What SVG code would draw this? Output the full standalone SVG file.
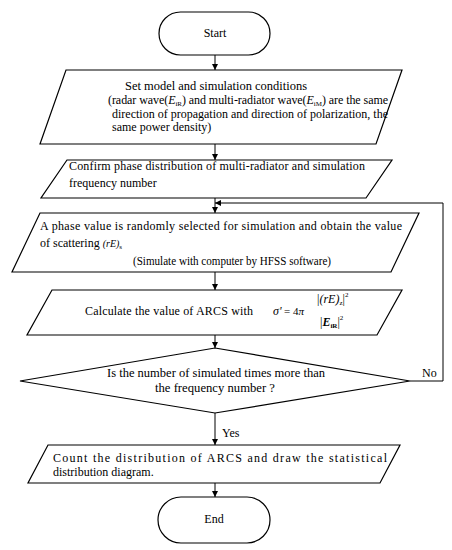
<svg xmlns="http://www.w3.org/2000/svg" width="452" height="550" viewBox="0 0 452 550" font-family="'Liberation Serif', 'Times New Roman', 'DejaVu Serif', serif" font-size="12">
<defs>
<marker id="ah" viewBox="0 0 8 8" refX="8" refY="4" markerWidth="6" markerHeight="6" markerUnits="userSpaceOnUse" orient="auto">
<path d="M0,0 L8,4 L0,8 z" fill="#000"/>
</marker>
<style>
.s{fill:#fff;stroke:#000;stroke-width:1.2}
.c{fill:none;stroke:#000;stroke-width:1;marker-end:url(#ah)}
.m{font-style:italic}
.sub{font-size:7px}
</style>
</defs>
<rect width="452" height="550" fill="#fff"/>
<g id="connectors">
<line class="c" x1="215" y1="55" x2="215" y2="70"/>
<line class="c" x1="215" y1="144" x2="215" y2="160"/>
<line class="c" x1="215" y1="198" x2="215" y2="213"/>
<line class="c" x1="215" y1="272" x2="215" y2="290"/>
<line class="c" x1="215" y1="335" x2="215" y2="348"/>
<line class="c" x1="215" y1="413" x2="215" y2="445"/>
<line class="c" x1="215" y1="483" x2="215" y2="497"/>
<polyline class="c" points="410,381 443,381 443,203 215,203"/>
<text x="222" y="437">Yes</text>
<text x="422" y="377">No</text>
</g>
<g id="start">
<rect class="s" x="159" y="12" width="111" height="43" rx="21.5"/>
<text x="215" y="37" text-anchor="middle">Start</text>
</g>
<g id="setModel">
<polygon class="s" points="66,70 402,70 376,144 40,144"/>
<text x="125" y="90" textLength="182" lengthAdjust="spacingAndGlyphs">Set model and simulation conditions</text>
<text x="108" y="104" textLength="280" lengthAdjust="spacing">(radar wave(<tspan class="m">E</tspan><tspan class="sub" dy="2">iR</tspan><tspan dy="-2">) and multi-radiator wave(</tspan><tspan class="m">E</tspan><tspan class="sub" dy="2">iM</tspan><tspan dy="-2">) are the same</tspan></text>
<text x="112" y="118" textLength="276" lengthAdjust="spacing">direction of propagation and direction of polarization, the</text>
<text x="112" y="131">same power density)</text>
</g>
<g id="confirm">
<polygon class="s" points="67,160 392,160 366,198 41,198"/>
<text x="69" y="170" textLength="296" lengthAdjust="spacing">Confirm phase distribution of multi-radiator and simulation</text>
<text x="69" y="187">frequency number</text>
</g>
<g id="phase">
<polygon class="s" points="40,213 419,213 391,272 12,272"/>
<text x="40" y="230" textLength="362" lengthAdjust="spacing">A phase value is randomly selected for simulation and obtain the value</text>
<text x="40" y="247">of scattering <tspan class="m" font-size="10">(rE)</tspan><tspan class="sub" dy="2">s</tspan></text>
<text x="133" y="265" textLength="198" lengthAdjust="spacingAndGlyphs">(Simulate with computer by HFSS software)</text>
</g>
<g id="calc">
<polygon class="s" points="52,290 402,290 377,335 27,335"/>
<text x="85" y="315" textLength="168" lengthAdjust="spacing">Calculate the value of ARCS with</text>
<text x="273" y="315" class="m">σ'</text>
<text x="284" y="315" font-size="11">= 4<tspan class="m">π</tspan></text>
<text x="317" y="303" font-size="12">|<tspan class="m">(rE)</tspan><tspan class="sub" dy="2">z</tspan><tspan dy="-2">|</tspan><tspan class="sub" dy="-6">2</tspan></text>
<text x="320" y="326" font-size="12">|<tspan class="m" font-weight="bold">E</tspan><tspan class="sub" font-weight="bold" dy="2">iR</tspan><tspan dy="-2">|</tspan><tspan class="sub" dy="-6">2</tspan></text>
</g>
<g id="decision">
<polygon class="s" points="215,348 410,381 215,413 20,381"/>
<text x="107" y="377" textLength="218" lengthAdjust="spacingAndGlyphs">Is the number of simulated times more than</text>
<text x="155" y="392" textLength="120" lengthAdjust="spacingAndGlyphs">the frequency number ?</text>
</g>
<g id="count">
<polygon class="s" points="48,445 400,445 380,483 28,483"/>
<text x="53" y="462" textLength="334" lengthAdjust="spacing">Count the distribution of ARCS and draw the statistical</text>
<text x="53" y="476">distribution diagram.</text>
</g>
<g id="end">
<rect class="s" x="158" y="497" width="112" height="46" rx="23"/>
<text x="214" y="523" text-anchor="middle">End</text>
</g>
</svg>
